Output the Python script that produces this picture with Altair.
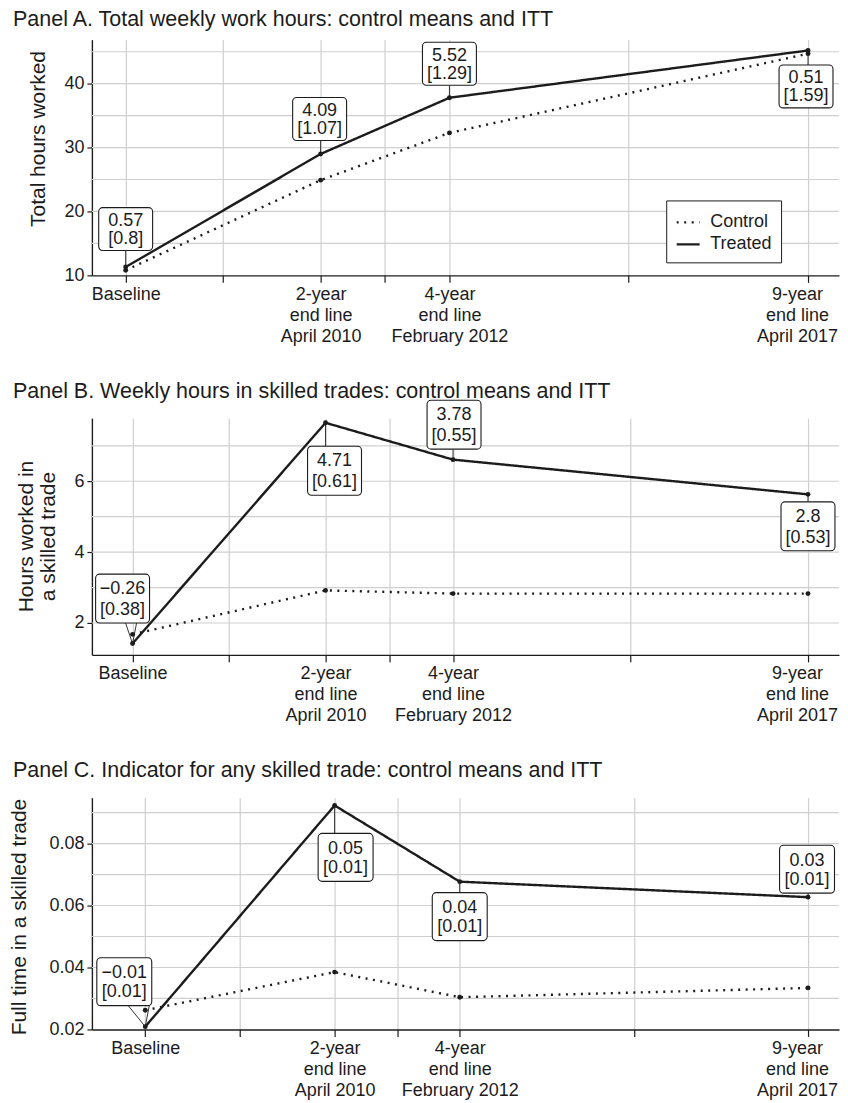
import json
import altair as alt
import pandas as pd

# ---------------- data ----------------
SERIES = ["Control", "Treated"]
WAVE_X = [2007.45, 2010.25, 2012.1, 2017.25]        # decimal years of survey waves
MID_X = [2008.85, 2011.175, 2014.675]                # unlabeled ticks
X_LABELS = [["Baseline"],
            ["2-year", "end line", "April 2010"],
            ["4-year", "end line", "February 2012"],
            ["9-year", "end line", "April 2017"]]

A_CONTROL = [10.8, 24.9, 32.3, 44.7]
A_TREATED = [11.3, 29.0, 37.8, 45.2]
A_ITT = ["0.57", "4.09", "5.52", "0.51"]
A_SE = ["0.8", "1.07", "1.29", "1.59"]

B_CONTROL = [1.68, 2.92, 2.83, 2.83]
B_TREATED = [1.42, 7.65, 6.61, 5.63]
B_ITT = ["\u22120.26", "4.71", "3.78", "2.8"]
B_SE = ["0.38", "0.61", "0.55", "0.53"]

C_CONTROL = [0.0262, 0.0385, 0.0304, 0.0334]
C_TREATED = [0.0209, 0.0923, 0.0677, 0.0627]
C_ITT = ["\u22120.01", "0.05", "0.04", "0.03"]
C_SE = ["0.01", "0.01", "0.01", "0.01"]

# ---------------- styling ----------------
FONT = "Liberation Sans"
INK = "#1c1c1c"
GRID = "#cfcfcf"
PLOT_W = 748


def x_label_expr():
    parts = []
    for pos, lines in zip(WAVE_X, X_LABELS):
        parts.append(f"abs(datum.value - {pos}) < 0.01 ? {json.dumps(lines)} : ")
    return "".join(parts) + "''"


def panel(title, ytitle, control, treated, itt, se, ydomain, yticks, ygrid, yfmt,
          xdomain, height, placements, box_w, box_h, line_h, title_x, title_y,
          title_dy, legend):
    rows = []
    for i in range(4):
        rows.append({"x": WAVE_X[i], "value": control[i], "series": "Control"})
        rows.append({"x": WAVE_X[i], "value": treated[i], "series": "Treated"})
    df = pd.DataFrame(rows)

    xscale = alt.Scale(domain=xdomain, nice=False, zero=False)
    yscale = alt.Scale(domain=ydomain, nice=False, zero=False)
    xenc = alt.X("x:Q", scale=xscale, title=None,
                 axis=alt.Axis(values=sorted(WAVE_X + MID_X), labelExpr=x_label_expr(),
                               grid=True, tickSize=7, labelPadding=3, labelLineHeight=21,
                               labelFlush=False, labelOverlap=False, labelBaseline="top",
                               labelOffset={"condition": {"test": "datum.value > 2017",
                                                          "value": -11}, "value": 0}))
    yenc = alt.Y("value:Q", scale=yscale, title=ytitle,
                 axis=alt.Axis(values=yticks, format=yfmt, grid=False, tickSize=5,
                               labelPadding=3, titleX=title_x, titleY=title_y,
                               titleBaseline="alphabetic", titleLineHeight=22))

    grid = alt.Chart(pd.DataFrame({"value": ygrid})).mark_rule(
        color=GRID, strokeWidth=1.2).encode(y=yenc)

    dash_scale = alt.Scale(domain=SERIES, range=[[2, 5.5], [1, 0]])
    lines = alt.Chart(df).mark_line(color=INK, strokeWidth=2.4).encode(
        x=xenc, y=yenc,
        strokeDash=alt.StrokeDash("series:N", scale=dash_scale, legend=legend))
    pts = alt.Chart(df).mark_circle(size=24, color=INK, opacity=1).encode(
        x=xenc, y=yenc, detail="series:N")

    layers = [grid, lines, pts]
    for i, (dx, dy, kind) in enumerate(placements):
        row = pd.DataFrame({"x": [WAVE_X[i]], "value": [treated[i]],
                            "label": [f"{itt[i]}\n[{se[i]}]"]})
        base = alt.Chart(row)
        if kind == "v":
            edge = dy + box_h / 2 if dy < 0 else dy - box_h / 2
            layers.append(base.mark_rule(color=INK, strokeWidth=0.9, y2Offset=edge).encode(
                x=xenc, x2="x:Q", y=yenc, y2="value:Q"))
        else:
            edge = dy + box_h / 2
            for leg in kind:
                layers.append(base.mark_rule(color=INK, strokeWidth=0.9,
                                             x2Offset=leg, y2Offset=edge).encode(
                    x=xenc, x2="x:Q", y=yenc, y2="value:Q"))
        layers.append(base.mark_rect(width=box_w, height=box_h, cornerRadius=4,
                                     fill="white", stroke=INK, strokeWidth=1.1,
                                     xOffset=dx, yOffset=dy).encode(x=xenc, y=yenc))
        layers.append(base.mark_text(lineBreak="\n", fontSize=18, lineHeight=line_h,
                                     color=INK, align="center", baseline="middle",
                                     xOffset=dx, yOffset=dy - line_h / 2 + 1).encode(
            x=xenc, y=yenc, text="label:N"))

    return alt.layer(*layers).properties(
        width=PLOT_W, height=height,
        title=alt.TitleParams(title, anchor="start", frame="group", dx=-79, dy=title_dy,
                              fontSize=21.5, fontWeight="normal", color=INK, offset=9))


legend_a = alt.Legend(title=None, orient="none", legendX=575, legendY=161,
                      strokeColor=INK, fillColor="white", padding=9,
                      labelFontSize=18, labelColor=INK, symbolSize=529,
                      symbolStrokeWidth=2.2, symbolType="stroke",
                      symbolStrokeColor=INK, labelOffset=9, rowPadding=-2)

pA = panel("Panel A. Total weekly work hours: control means and ITT",
           "Total hours worked", A_CONTROL, A_TREATED, A_ITT, A_SE,
           [10, 46.9], [10, 20, 30, 40], [15, 20, 25, 30, 35, 40, 45], "d",
           [2006.965, 2017.695], 236,
           [(0, -38, "v"), (-1, -35, "v"), (0, -34, "v"), (-2, 36, "v")],
           54, 43, 18, -47, 99, 0, legend_a)

pB = panel("Panel B. Weekly hours in skilled trades: control means and ITT",
           ["Hours worked in", "a skilled trade"], B_CONTROL, B_TREATED, B_ITT, B_SE,
           [1.1, 7.78], [2, 4, 6], [2, 3, 4, 5, 6, 7], "d",
           [2006.86, 2017.70], 237,
           [(-10, -45, [-7, 4]), (9, 48, "v"), (1, -35, "v"), (0, 32, "v")],
           54, 49, 21, -59, 118, 12, None)

pC = panel("Panel C. Indicator for any skilled trade: control means and ITT",
           "Full time in a skilled trade", C_CONTROL, C_TREATED, C_ITT, C_SE,
           [0.02, 0.0948], [0.02, 0.04, 0.06, 0.08],
           [0.03, 0.04, 0.05, 0.06, 0.07, 0.08, 0.09], ".2f",
           [2006.661, 2017.708], 232,
           [(-21, -45, [-17, 4]), (11, 52, "v"), (0, 35, "v"), (-1, -28, "v")],
           55, 48, 19, -66, 119, -7, None)

chart = alt.vconcat(pA, pB, pC, spacing=143, bounds="flush").resolve_scale(
    strokeDash="independent").resolve_legend(strokeDash="independent").properties(
    padding={"left": 0, "right": 0, "top": 0, "bottom": 8}
).configure(font=FONT).configure_view(stroke=None).configure_axis(
    domainColor=INK, domainWidth=1.4, tickColor=INK, tickWidth=1.2,
    labelColor=INK, labelFontSize=18, labelFont=FONT,
    titleColor=INK, titleFontSize=21, titleFontWeight="normal", titleFont=FONT,
    gridColor=GRID, gridWidth=1.2)

chart.save("out.html", embed_options={"renderer": "svg", "actions": False})
